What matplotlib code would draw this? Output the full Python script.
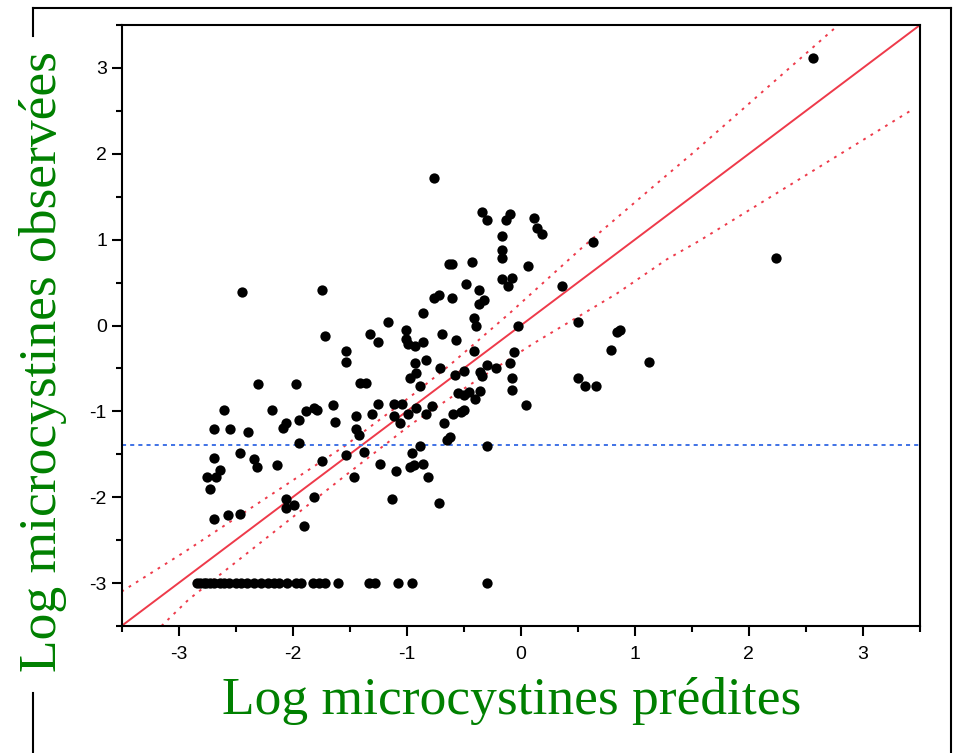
import matplotlib
matplotlib.use("Agg")
import matplotlib.pyplot as plt
from matplotlib.ticker import MultipleLocator, FixedLocator
from matplotlib.lines import Line2D

plt.rcParams['axes.unicode_minus'] = False

# ---- data ----
pred_x = [
    -2.44, -1.74, -1.72, -1.53, -1.53, -2.30, -1.97, -2.60, -2.18, -1.81,
    -1.79, -1.88, -1.94, -1.65, -1.63, -2.69, -2.55, -2.39, -2.06, -2.08,
    -1.94, -2.69, -2.46, -2.34, -2.31, -2.14, -2.64, -2.75, -2.67, -2.72,
    -1.74, -2.06, -2.06, -1.99, -1.81, -1.90, -2.69, -2.57, -2.46,
    -0.76, -0.34, -0.30, -0.63, -0.60, -0.43, -0.48, -0.37, -0.76, -0.72,
    -0.60, -0.32, -0.37, -0.86, -1.16, -0.41, -0.39, -1.32, -1.25, -1.01,
    -1.01, -0.99, -0.93, -0.86, -0.69, -0.57, -0.41, -0.83, -0.93, -0.71,
    -0.30, -0.22, -0.92, -0.97, -0.50, -0.58, -0.36, -0.34, -1.41, -1.36,
    -0.88, -0.55, -0.50, -0.45, -0.40, -0.36, -1.25, -1.11, -1.04, -0.92,
    -0.78, -1.44, -1.30, -1.11, -0.99, -0.83, -0.59, -0.50, -0.52, -1.44,
    -1.42, -1.06, -0.67, -0.65, -0.62, -1.53, -1.37, -1.23, -1.09, -0.88,
    -0.95, -0.97, -0.94, -0.86, -0.81, -1.46, -1.13, -0.72, -0.30,
    -0.13, -0.09, 0.12, 0.14, 0.19, -0.16, -0.16, -0.16, 0.06, 0.63,
    0.36, -0.16, -0.08, -0.11, -0.02, 0.50, 0.84, 0.87, 0.79, 1.12,
    -0.06, -0.09, -0.08, -0.08, 0.05, 0.50, 0.56, 0.66, 2.56, 2.24,
    # points at the detection limit (observed = -3)
    -2.84, -2.81, -2.78, -2.76, -2.72, -2.69, -2.64, -2.60, -2.56, -2.50,
    -2.45, -2.40, -2.34, -2.28, -2.22, -2.16, -2.12, -2.05, -1.97, -1.93,
    -1.82, -1.77, -1.72, -1.60, -1.33, -1.28, -1.08, -0.95, -0.30,
]
obs_y = [
    0.39, 0.41, -0.12, -0.30, -0.42, -0.68, -0.68, -0.98, -0.98, -0.96,
    -0.98, -1.00, -1.10, -0.93, -1.12, -1.21, -1.21, -1.24, -1.14, -1.19,
    -1.37, -1.54, -1.49, -1.56, -1.65, -1.63, -1.68, -1.77, -1.77, -1.91,
    -1.58, -2.02, -2.12, -2.09, -2.00, -2.33, -2.25, -2.21, -2.19,
    1.72, 1.32, 1.23, 0.72, 0.72, 0.74, 0.48, 0.41, 0.32, 0.35,
    0.32, 0.30, 0.25, 0.15, 0.04, 0.09, 0.00, -0.10, -0.19, -0.05,
    -0.16, -0.21, -0.24, -0.19, -0.10, -0.17, -0.30, -0.40, -0.44, -0.49,
    -0.46, -0.49, -0.55, -0.61, -0.53, -0.58, -0.54, -0.59, -0.67, -0.67,
    -0.70, -0.79, -0.81, -0.77, -0.86, -0.76, -0.91, -0.91, -0.91, -0.96,
    -0.94, -1.05, -1.03, -1.05, -1.03, -1.03, -1.03, -0.98, -1.01, -1.21,
    -1.28, -1.14, -1.14, -1.33, -1.30, -1.51, -1.47, -1.61, -1.70, -1.40,
    -1.49, -1.65, -1.62, -1.61, -1.77, -1.77, -2.02, -2.07, -1.40,
    1.23, 1.30, 1.25, 1.13, 1.07, 1.04, 0.88, 0.79, 0.69, 0.97,
    0.46, 0.54, 0.55, 0.46, 0.00, 0.04, -0.07, -0.05, -0.28, -0.42,
    -0.31, -0.44, -0.61, -0.75, -0.93, -0.61, -0.70, -0.70, 3.11, 0.79,
    -3.00, -3.00, -3.00, -3.00, -3.00, -3.00, -3.00, -3.00, -3.00, -3.00,
    -3.00, -3.00, -3.00, -3.00, -3.00, -3.00, -3.00, -3.00, -3.00, -3.00,
    -3.00, -3.00, -3.00, -3.00, -3.00, -3.00, -3.00, -3.00, -3.00,
]

# identity line and the two dotted bands
identity_x = [-3.5, 3.5]
identity_y = [-3.5, 3.5]
upper_x = [-3.50, -2.95, -2.37, -1.55, -0.95, -0.63, -0.10, 0.54, 1.19, 1.51, 2.75, 2.78]
upper_y = [-3.10, -2.64, -2.13, -1.41, -0.81, -0.47, 0.14, 0.91, 1.65, 2.01, 3.46, 3.50]
lower_x = [-3.15, -2.91, -1.55, -0.95, -0.48, 0.11, 0.84, 1.28, 1.57, 3.44]
lower_y = [-3.50, -3.19, -1.76, -1.14, -0.72, -0.21, 0.37, 0.77, 0.99, 2.52]
threshold_y = -1.39

x_ticks = [-3, -2, -1, 0, 1, 2, 3]
y_ticks = [-3, -2, -1, 0, 1, 2, 3]
x_label = "Log microcystines prédites"
y_label = "Log microcystines observées"

# ---- figure ----
W, H = 957, 753
fig = plt.figure(figsize=(W / 100, H / 100), dpi=100)
fig.patch.set_facecolor("white")

ax_l, ax_r, ax_t, ax_b = 121.5, 920.0, 25.0, 626.0
ax = fig.add_axes([ax_l / W, 1 - ax_b / H, (ax_r - ax_l) / W, (ax_b - ax_t) / H])
ax.set_xlim(-3.5, 3.5)
ax.set_ylim(-3.5, 3.5)

red = "#ee3a4a"
blue = "#3f72e6"
ax.plot(identity_x, identity_y, color=red, lw=1.4, zorder=2)
ax.plot(upper_x, upper_y, color=red, lw=1.4, linestyle=(0, (1.4, 3.0)), zorder=2)
ax.plot(lower_x, lower_y, color=red, lw=1.4, linestyle=(0, (1.4, 3.0)), zorder=2)
ax.axhline(threshold_y, color=blue, lw=1.4, linestyle=(0, (2.1, 2.1)), zorder=2)
ax.scatter(pred_x, obs_y, s=55, color="black", linewidths=0, zorder=3)

for sp in ax.spines.values():
    sp.set_linewidth(1.5)
    sp.set_color("black")

ax.xaxis.set_major_locator(FixedLocator(x_ticks))
ax.yaxis.set_major_locator(FixedLocator(y_ticks))
ax.xaxis.set_minor_locator(MultipleLocator(0.5))
ax.yaxis.set_minor_locator(MultipleLocator(0.5))
ax.set_xticklabels([str(v) for v in x_ticks])
ax.set_yticklabels([str(v) for v in y_ticks])
ax.tick_params(which="major", direction="out", length=7.5, width=1.5, labelsize=14)
ax.tick_params(axis="x", which="major", pad=7)
ax.tick_params(axis="y", which="major", pad=3)
ax.tick_params(which="minor", direction="out", length=4.5, width=1.5)
for lab in ax.get_xticklabels() + ax.get_yticklabels():
    lab.set_family("Liberation Sans")

green = "#008000"
fig.text(512 / W, 1 - 701 / H, x_label, family="Liberation Serif", fontsize=38.5,
         color=green, ha="center", va="center")
fig.text(43 / W, 1 - 362 / H, y_label, family="Liberation Serif", fontsize=38.5,
         color=green, ha="center", va="center", rotation=90)

# outer frame lines (figure coordinates)
def fline(x0, y0, x1, y1):
    fig.add_artist(Line2D([x0 / W, x1 / W], [1 - y0 / H, 1 - y1 / H],
                          color="black", lw=1.5, transform=fig.transFigure))

fline(33, 7.5, 951, 7.5)
fline(951, 7.5, 951, 753)
fline(33, 7.5, 33, 36)
fline(33, 693, 33, 753)

fig.savefig("out.png", dpi=100)
